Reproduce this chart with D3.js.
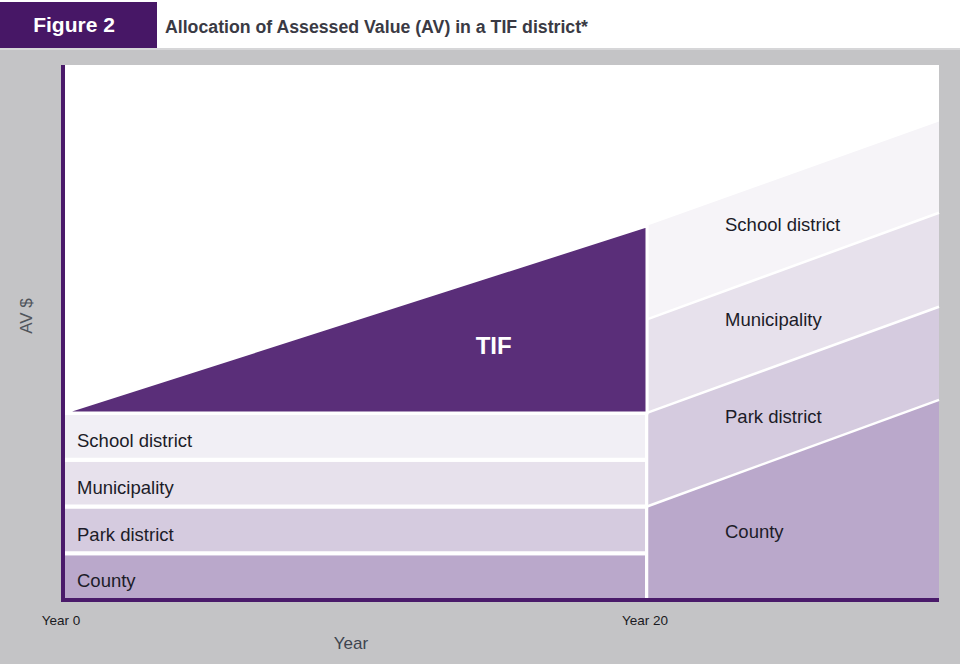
<!DOCTYPE html>
<html>
<head>
<meta charset="utf-8">
<script src="https://cdn.jsdelivr.net/npm/d3@7"></script>
<style>
  body { margin: 0; background: #c4c4c6; }
  svg { display: block; font-family: "Liberation Sans", Arial, sans-serif; }
</style>
</head>
<body>
<svg id="chart" width="960" height="664"></svg>
<script>
// Données (unités arbitraires de valeur AV)
const bodies = ["County", "Park district", "Municipality", "School district"];
const colorsLeft = ["#baa8cb", "#d5cbdf", "#e7e1ec", "#f1eff5"];
const colorsRight = ["#baa8cb", "#d5cbdf", "#e7e1ec", "#f6f4f8"];
// Valeur gelée de base (année 0 à 20), une part par organisme
const frozenYears = [0, 20];
const frozenValues = [1, 1, 1, 1];
// Après la fin du TIF (année 20 à 30)
const afterYears = [20, 30];
const afterYear20 = [2, 2, 2, 2];
const afterYear30 = [4.28, 1.99, 2.01, 1.95];
// Valeur totale pendant le TIF
const tifYears = [0, 20];
const tifTotal = [4, 8];
const tickYears = [0, 20];
const tickLabels = ["Year 0", "Year 20"];

const svg = d3.select("#chart");
const W = 960, H = 664;

// fond gris
svg.append("rect").attr("width", W).attr("height", H).attr("fill", "#c4c4c6");

// en-tête
svg.append("rect").attr("width", W).attr("height", 48).attr("fill", "#ffffff");
svg.append("rect").attr("y", 48).attr("width", W).attr("height", 2).attr("fill", "#d6d6d8");
svg.append("rect").attr("x", 0).attr("y", 2).attr("width", 157).attr("height", 46)
  .attr("fill", "#471766");
svg.append("text").attr("x", 74).attr("y", 32).attr("text-anchor", "middle")
  .attr("fill", "#ffffff").attr("font-size", 21).attr("font-weight", "bold")
  .text("Figure 2");
svg.append("text").attr("x", 165).attr("y", 33)
  .attr("fill", "#3a3a44").attr("font-size", 17.5).attr("font-weight", "bold")
  .attr("textLength", 423).attr("lengthAdjust", "spacingAndGlyphs")
  .text("Allocation of Assessed Value (AV) in a TIF district*");

// échelles
const x = d3.scaleLinear().domain([0, 30]).range([63, 939]);
const y = d3.scaleLinear().domain([0, 11.44]).range([600, 65]);

// zone de tracé blanche
svg.append("rect")
  .attr("x", x(0)).attr("y", y(11.44))
  .attr("width", x(30) - x(0)).attr("height", y(0) - y(11.44))
  .attr("fill", "#ffffff");

// empilement des parts
const rowsLeft = frozenYears.map(yr => {
  const r = { year: yr };
  bodies.forEach((b, i) => r[b] = frozenValues[i]);
  return r;
});
const rowsRight = afterYears.map((yr, j) => {
  const r = { year: yr };
  bodies.forEach((b, i) => r[b] = j === 0 ? afterYear20[i] : afterYear30[i]);
  return r;
});
const stack = d3.stack().keys(bodies);
const leftStack = stack(rowsLeft);
const rightStack = stack(rowsRight);

const area = d3.area()
  .x(d => x(d.data.year))
  .y0(d => y(d[0]))
  .y1(d => y(d[1]));

// bandes gelées (gauche)
svg.append("g").selectAll("path")
  .data(leftStack)
  .join("path")
  .attr("d", area)
  .attr("fill", (d, i) => colorsLeft[i])
  .attr("stroke", "#ffffff")
  .attr("stroke-width", 4);

// bandes après TIF (droite), sans contour
svg.append("g").selectAll("path")
  .data(rightStack)
  .join("path")
  .attr("d", area)
  .attr("fill", (d, i) => colorsRight[i]);

// lignes blanches entre les bandes de droite
const topLine = d3.line()
  .x(d => x(d.data.year))
  .y(d => y(d[1]));
svg.append("g").selectAll("path")
  .data(rightStack.slice(0, -1))
  .join("path")
  .attr("d", topLine)
  .attr("fill", "none")
  .attr("stroke", "#ffffff")
  .attr("stroke-width", 2.5);
const lastLayer = rightStack[rightStack.length - 1];
svg.append("line")
  .attr("x1", x(afterYears[0])).attr("x2", x(afterYears[0]))
  .attr("y1", y(lastLayer[0][1])).attr("y2", y(0))
  .attr("stroke", "#ffffff").attr("stroke-width", 2.5);

// triangle TIF
const base = d3.sum(frozenValues);
const tifPts = [
  [x(tifYears[0]), y(tifTotal[0])],
  [x(tifYears[1]), y(tifTotal[1])],
  [x(tifYears[1]), y(base)]
];
svg.append("path")
  .attr("d", d3.line()(tifPts) + "Z")
  .attr("fill", "#5a2e79")
  .attr("stroke", "#ffffff")
  .attr("stroke-width", 3)
  .attr("stroke-linejoin", "miter");

svg.append("text")
  .attr("x", x(14.75)).attr("y", y(5.25))
  .attr("text-anchor", "middle")
  .attr("fill", "#ffffff").attr("font-size", 24).attr("font-weight", "bold")
  .text("TIF");

// étiquettes gauche : centrées dans chaque bande
svg.append("g").selectAll("text")
  .data(leftStack)
  .join("text")
  .attr("x", 77)
  .attr("y", d => y((d[0][0] + d[0][1]) / 2))
  .attr("dy", "0.58em")
  .attr("font-size", 18.5)
  .attr("fill", "#1c1c28")
  .text(d => d.key);

// étiquettes droite
const rightLabelAV = [1.32, 3.78, 5.86, 7.89];
svg.append("g").selectAll("text")
  .data(rightStack)
  .join("text")
  .attr("x", 725)
  .attr("y", (d, i) => y(rightLabelAV[i]))
  .attr("font-size", 18.5)
  .attr("fill", "#1c1c28")
  .text(d => d.key);

// axes
svg.append("line")
  .attr("x1", x(0)).attr("x2", x(0))
  .attr("y1", y(11.44)).attr("y2", y(0) + 2)
  .attr("stroke", "#4a1a6a").attr("stroke-width", 4);
svg.append("line")
  .attr("x1", x(0) - 2).attr("x2", x(30))
  .attr("y1", y(0)).attr("y2", y(0))
  .attr("stroke", "#4a1a6a").attr("stroke-width", 4);

svg.append("g").selectAll("text")
  .data(tickYears)
  .join("text")
  .attr("x", d => x(d) - 2)
  .attr("y", y(0) + 25)
  .attr("text-anchor", "middle")
  .attr("font-size", 13.5)
  .attr("fill", "#1a1a22")
  .text((d, i) => tickLabels[i]);

svg.append("text")
  .attr("x", 351).attr("y", 649)
  .attr("text-anchor", "middle")
  .attr("font-size", 17)
  .attr("fill", "#3e4550")
  .text("Year");

svg.append("text")
  .attr("transform", "translate(32,316) rotate(-90)")
  .attr("text-anchor", "middle")
  .attr("font-size", 17)
  .attr("fill", "#50555c")
  .text("AV $");
</script>
</body>
</html>
